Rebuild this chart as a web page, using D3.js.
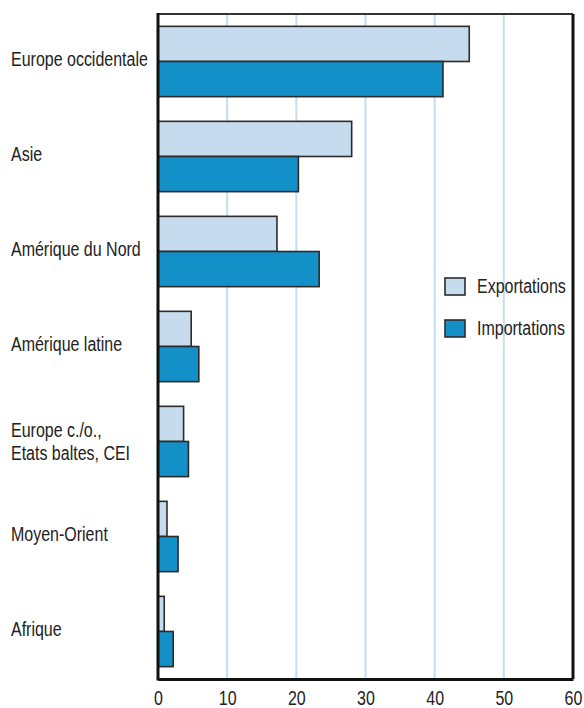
<!DOCTYPE html>
<html>
<head>
<meta charset="utf-8">
<script src="https://cdn.jsdelivr.net/npm/d3@7"></script>
<style>
  body { margin: 0; background: #fff; }
  text { font-family: "Liberation Sans", Arial, sans-serif; fill: #222; }
</style>
</head>
<body>
<div id="chart"></div>
<script>
// regions, top to bottom
var regions = ["Europe occidentale", "Asie", "Amérique du Nord", "Amérique latine",
  "Europe c./o.,\nEtats baltes, CEI", "Moyen-Orient", "Afrique"];
var seriesNames = ["Exportations", "Importations"];
var exportations = [45.0, 28.0, 17.2, 4.8, 3.7, 1.3, 0.9];
var importations = [41.2, 20.3, 23.3, 5.9, 4.4, 2.9, 2.2];
var xTicks = [0, 10, 20, 30, 40, 50, 60];
var colors = ["#c6dbee", "#1490c9"];

// no narrow font installed, so squeeze the regular one
var narrow = 0.82;
var fontSize = "19.5px";

var svgWidth = 584, svgHeight = 708;
var margin = {top: 14, right: 11, bottom: 29, left: 158};
var width = svgWidth - margin.left - margin.right;
var height = svgHeight - margin.top - margin.bottom;

var svg = d3.select("#chart").append("svg")
  .attr("width", svgWidth)
  .attr("height", svgHeight);

var chartGroup = svg.append("g")
  .attr("transform", `translate(${margin.left}, ${margin.top})`);

var x = d3.scaleLinear().domain([0, 60]).range([0, width]);
var y = d3.scaleBand().domain(regions).range([0, height])
  .paddingInner(0.26).paddingOuter(0.13);
var ySub = d3.scaleBand().domain(seriesNames).range([0, y.bandwidth()]);

// gridlines
chartGroup.append("g")
  .selectAll("line")
  .data(xTicks.slice(1, -1))
  .enter().append("line")
  .attr("x1", d => x(d)).attr("x2", d => x(d))
  .attr("y1", 0).attr("y2", height)
  .attr("stroke", "#c6dcef")
  .attr("stroke-width", 2);

// bars
var rows = regions.map((r, i) => ({region: r, values: [exportations[i], importations[i]]}));
var groups = chartGroup.selectAll(".region")
  .data(rows)
  .enter().append("g")
  .attr("transform", d => `translate(0, ${y(d.region)})`);

groups.selectAll("rect")
  .data(d => d.values.map((v, j) => ({name: seriesNames[j], value: v, j: j})))
  .enter().append("rect")
  .attr("x", x(0))
  .attr("y", d => ySub(d.name))
  .attr("width", d => x(d.value) - x(0))
  .attr("height", ySub.bandwidth())
  .attr("fill", d => colors[d.j])
  .attr("stroke", "#2b2b2b")
  .attr("stroke-width", 1.6);

// frame: top and right
chartGroup.append("line")
  .attr("x1", 0).attr("x2", width).attr("y1", 0).attr("y2", 0)
  .attr("stroke", "#333").attr("stroke-width", 2);
chartGroup.append("line")
  .attr("x1", width).attr("x2", width).attr("y1", 0).attr("y2", height)
  .attr("stroke", "#111").attr("stroke-width", 3);

// axes
var bottomAxis = d3.axisBottom(x).tickValues(xTicks).tickSize(0).tickPadding(12);
var xAxisG = chartGroup.append("g")
  .attr("transform", `translate(0, ${height})`)
  .call(bottomAxis);
xAxisG.select(".domain").attr("stroke", "#111").attr("stroke-width", 3);
xAxisG.selectAll("text")
  .attr("font-family", null)
  .style("font-size", fontSize)
  .attr("fill", "#222")
  .attr("transform", `scale(${narrow}, 1)`);

chartGroup.append("line")
  .attr("x1", 0).attr("x2", 0).attr("y1", -1).attr("y2", height + 1.5)
  .attr("stroke", "#111").attr("stroke-width", 3);

// category labels
var labels = svg.append("g").selectAll("text")
  .data(regions)
  .enter().append("text")
  .attr("transform", d => `translate(11, ${margin.top + y(d) + y.bandwidth() / 2 + 4}) scale(${narrow}, 1)`)
  .style("font-size", fontSize);

labels.each(function(d) {
  var lines = d.split("\n");
  var t = d3.select(this);
  lines.forEach((ln, k) => {
    t.append("tspan")
      .attr("x", 0)
      .attr("dy", k === 0 ? (lines.length > 1 ? -9 : 0) : 23)
      .text(ln);
  });
});

// legend
var legend = svg.append("g")
  .attr("transform", "translate(445, 278)");
var items = legend.selectAll("g")
  .data(seriesNames)
  .enter().append("g")
  .attr("transform", (d, i) => `translate(0, ${i * 42})`);
items.append("rect")
  .attr("width", 20).attr("height", 17)
  .attr("fill", (d, i) => colors[i])
  .attr("stroke", "#2b2b2b")
  .attr("stroke-width", 1.6);
items.append("text")
  .attr("transform", `translate(32, 14.5) scale(${narrow}, 1)`)
  .style("font-size", fontSize)
  .text(d => d);
</script>
</body>
</html>
